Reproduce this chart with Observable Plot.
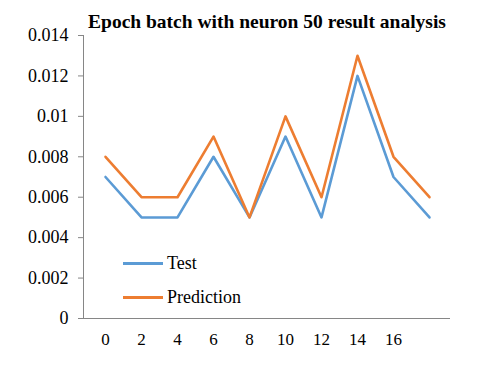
<!DOCTYPE html>
<html><head><meta charset="utf-8">
<script src="https://cdn.jsdelivr.net/npm/d3@7"></script>
<script src="https://cdn.jsdelivr.net/npm/@observablehq/plot@0.6"></script>
<style>
body{margin:0;background:#fff}
#wrap{position:relative;width:480px;height:367px}
</style></head><body><div id="wrap"></div>
<script>
const chartTitle = "Epoch batch with neuron 50 result analysis";
const epochLabels = ["0","2","4","6","8","10","12","14","16",""];
const testValues = [0.007,0.005,0.005,0.008,0.005,0.009,0.005,0.012,0.007,0.005];
const predictionValues = [0.008,0.006,0.006,0.009,0.005,0.010,0.006,0.013,0.008,0.006];
const yTicks = [0,0.002,0.004,0.006,0.008,0.01,0.012,0.014];
const seriesNames = ["Test","Prediction"];
const seriesColors = ["#5B9BD5","#ED7D31"];

const rows = [];
testValues.forEach((v,i)=>rows.push({i, v, s:"Test"}));
predictionValues.forEach((v,i)=>rows.push({i, v, s:"Prediction"}));

const gray = "#868686";
const plot = Plot.plot({
  width: 480, height: 367,
  marginLeft: 83, marginRight: 30, marginTop: 35, marginBottom: 49,
  style: {fontFamily: '"Liberation Serif", serif', fontSize: "18px", background: "#fff"},
  x: {type: "point", domain: d3.range(epochLabels.length), padding: 0.5, axis: null, label: null},
  y: {domain: [0, 0.014], axis: null, label: null},
  color: {domain: seriesNames, range: seriesColors},
  marks: [
    Plot.ruleY([0], {stroke: gray}),
    Plot.frame({anchor: "left", stroke: gray}),
    Plot.axisY({ticks: yTicks, tickSize: 5, tickPadding: 10, stroke: gray, fill: "#000", fontSize: 18, label: null,
      tickFormat: d => String(+d.toFixed(3))}),
    Plot.axisX({tickSize: 0, tickPadding: 14, fill: "#000", fontSize: 17, label: null, tickFormat: i => epochLabels[i]}),
    Plot.line(rows.filter(r=>r.s==="Test"), {x: "i", y: "v", stroke: "s", strokeWidth: 2.6}),
    Plot.line(rows.filter(r=>r.s==="Prediction"), {x: "i", y: "v", stroke: "s", strokeWidth: 2.6}),
    Plot.text([chartTitle], {frameAnchor: "top", lineAnchor: "bottom", dy: -8, fontWeight: "bold", fontSize: 19.5, fill: "#000"})
  ]
});
const wrap = document.getElementById("wrap");
wrap.appendChild(plot);
const legPos = [{left:123, top:252},{left:123, top:286}];
seriesNames.forEach((n,k)=>{
  const d = document.createElement("div");
  d.setAttribute("style", `position:absolute;left:${legPos[k].left}px;top:${legPos[k].top}px;height:22px;line-height:22px;display:flex;align-items:center;font-family:'Liberation Serif',serif;font-size:18px;color:#000`);
  d.innerHTML = `<span style="display:inline-block;width:40px;height:3px;margin-right:4px;background:${seriesColors[k]}"></span><span style="font-family:'Liberation Serif',serif">${n}</span>`;
  wrap.appendChild(d);
});
</script></body></html>
